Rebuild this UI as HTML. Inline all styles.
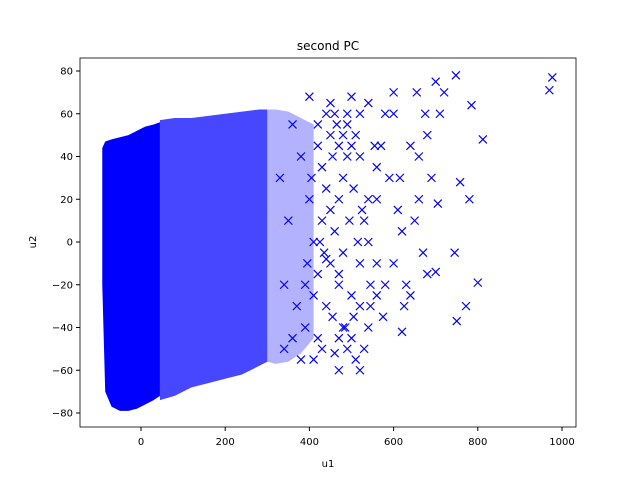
<!DOCTYPE html>
<html><head><meta charset="utf-8"><style>
body{margin:0;background:#fff;font-family:"Liberation Sans","DejaVu Sans",sans-serif}
svg text{font-family:"DejaVu Sans","Liberation Sans",sans-serif;font-size:10px;fill:#000}
</style></head><body>
<svg id="chart" width="640" height="480" xmlns="http://www.w3.org/2000/svg">
<rect width="640" height="480" fill="#fff"/>
<text x="328" y="50" text-anchor="middle" style="font-size:12px">second PC</text>
<g id="marks"></g>
<rect x="80" y="58" width="496" height="369" fill="none" stroke="#000" stroke-width="0.8"/>
<g id="axes"></g>
<text x="328" y="467" text-anchor="middle">u1</text>
<text x="36" y="242" text-anchor="middle" transform="rotate(-90 36 242)">u2</text>
</svg>
<script>
// dense core envelope (u1 bins with min/max u2)
const coreU1=[-92,-85,-70,-50,-30,-10,10,30,45];
const coreLo=[-20,-70,-77,-79,-79,-78,-76,-74,-72];
const coreHi=[44,47,48,49,50,52,54,55,56];
// mid-density envelope
const midU1=[45,80,120,160,200,240,280,300];
const midLo=[-74,-72,-68,-66,-64,-62,-58,-56];
const midHi=[57,58,58,59,60,61,62,62];
// transition envelope
const trU1=[300,320,350,380,410];
const trLo=[-56,-57,-56,-52,-45];
const trHi=[62,62,61,58,55];
// sparse points
const ptsU1=[977,970,700,748,720,785,812,758,780,800,772,750,745,700,705,690,680,675,660,655,640,620,625,630,610,615,600,580,570,560,560,560,540,545,560,520,530,540,520,500,490,480,470,460,450,440,430,420,480,490,510,520,500,460,410,400,420,440,450,470,490,510,520,505,495,480,470,455,430,420,400,380,370,360,390,440,600,650,670,680,620,590,580,640,710,660,600,540,575,530,360,390,410,350,340,330,420,470,380,340,430,450,470,500,520,540,460,480,500,440,410,395,425,455,485,515,545,465,435,405,505,525,555,490,470,450];
const ptsU2=[77,71,75,78,70,64,48,28,20,-19,-30,-37,-5,-14,18,30,50,60,40,70,-25,-42,-30,-20,15,30,70,60,45,35,20,-10,-40,-30,-25,-30,10,65,60,68,40,30,20,5,-10,-30,-50,-45,-40,-50,-55,-60,-45,-52,-55,68,55,60,50,45,55,50,40,25,10,-5,-20,-35,10,-15,20,40,-30,-45,-20,-8,-10,10,-5,-15,5,30,-20,45,60,20,60,0,-35,-50,55,-40,0,10,-20,30,45,-60,-55,-50,35,15,-15,-25,-10,20,60,50,45,25,-25,-10,0,40,-40,0,-20,55,-5,30,-35,15,45,60,-45,65];
const xTicks=[0,200,400,600,800,1000];
const yTicks=[-80,-60,-40,-20,0,20,40,60,80];
const NS='http://www.w3.org/2000/svg';
const X=v=>141+v*0.421, Y=v=>242-v*2.1375;
const marks=document.getElementById('marks'), axes=document.getElementById('axes');
function env(u,lo,hi,op,name){
  let d='M'+u.map((v,i)=>X(v)+','+Y(hi[i])).join('L')+'L'+u.slice().reverse().map((v,i)=>X(v)+','+Y(lo[u.length-1-i])).join('L')+'Z';
  const p=document.createElementNS(NS,'path');p.setAttribute('d',d);p.setAttribute('fill','#0000ff');p.setAttribute('fill-opacity',op);
  
  
  marks.appendChild(p);
}
env(trU1,trLo,trHi,0.3,'transition-region');
env(midU1,midLo,midHi,0.72,'mid-density-region');
env(coreU1,coreLo,coreHi,1,'dense-core-region');
ptsU1.forEach((u,i)=>{
  const x=X(u),y=Y(ptsU2[i]);
  const p=document.createElementNS(NS,'path');
  p.setAttribute('d',`M${x-4},${y-4}L${x+4},${y+4}M${x-4},${y+4}L${x+4},${y-4}`);
  p.setAttribute('stroke','#0000ff');p.setAttribute('stroke-width','1.2');
  
  
  marks.appendChild(p);
});
xTicks.forEach(t=>{
  const l=document.createElementNS(NS,'line');l.setAttribute('x1',X(t));l.setAttribute('x2',X(t));l.setAttribute('y1',427);l.setAttribute('y2',431);l.setAttribute('stroke','#000');
  
  
  axes.appendChild(l);
  const s=document.createElementNS(NS,'text');s.setAttribute('x',X(t));s.setAttribute('y',445);s.setAttribute('text-anchor','middle');s.textContent=t;
  
  
  axes.appendChild(s);
});
yTicks.forEach(t=>{
  const l=document.createElementNS(NS,'line');l.setAttribute('x1',76);l.setAttribute('x2',80);l.setAttribute('y1',Y(t));l.setAttribute('y2',Y(t));l.setAttribute('stroke','#000');
  
  
  axes.appendChild(l);
  const s=document.createElementNS(NS,'text');s.setAttribute('x',73);s.setAttribute('y',Y(t)+3.5);s.setAttribute('text-anchor','end');s.textContent=t<0?'\u2212'+(-t):t;
  
  
  axes.appendChild(s);
});
</script>
</body></html>
